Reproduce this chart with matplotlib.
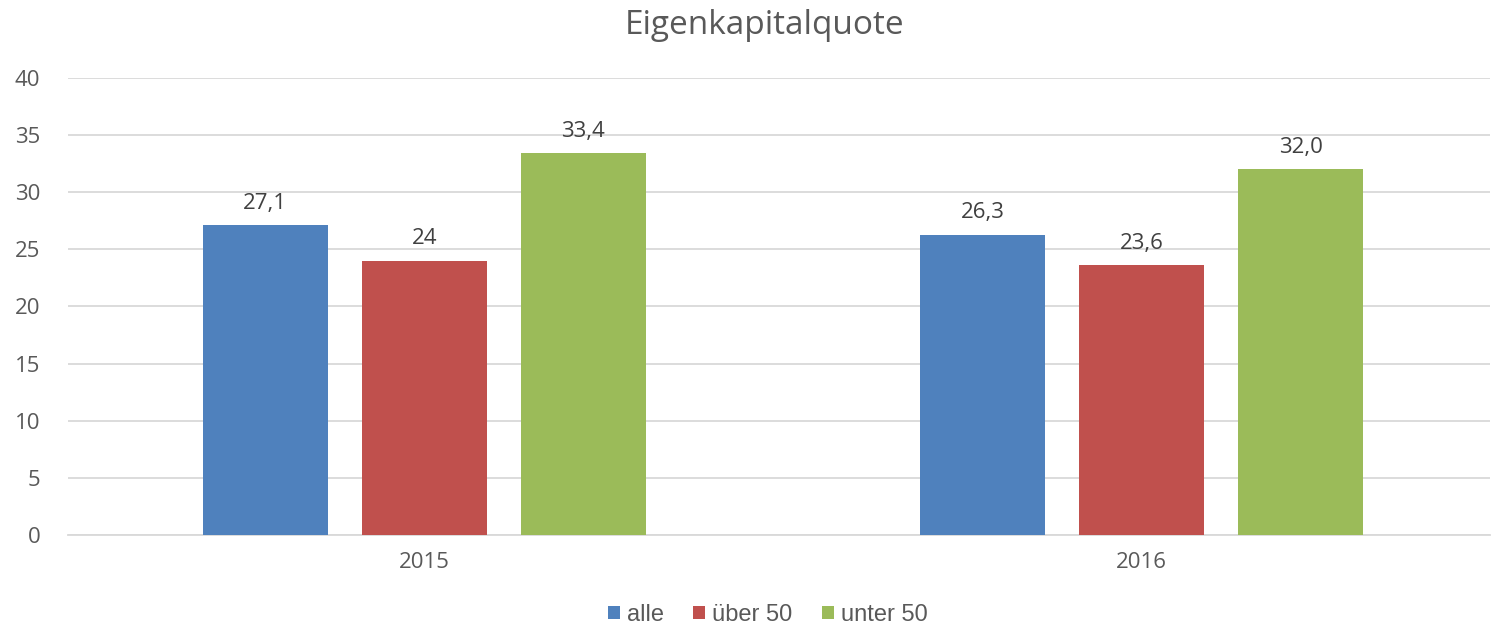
import numpy as np
import matplotlib.pyplot as plt

years = ['2015', '2016']
series = ['alle', 'über 50', 'unter 50']
alle = [27.1, 26.3]
ueber50 = [24, 23.6]
unter50 = [33.4, 32.0]
labels = [['27,1', '26,3'], ['24', '23,6'], ['33,4', '32,0']]
colors = ['#4F81BD', '#C0504D', '#9BBB59']

plt.rcParams['font.family'] = ['Open Sans', 'DejaVu Sans']

fig = plt.figure(figsize=(14.93, 6.26), dpi=100)
ax = fig.add_axes([0.0455, 0.1454, 0.9525, 0.73])

x = np.arange(len(years))
w = 0.1743
step = 0.2218
for i, (vals, name) in enumerate(zip([alle, ueber50, unter50], series)):
    bars = ax.bar(x + (i - 1) * step, vals, w, color=colors[i], label=name, zorder=3)
    for b, lab in zip(bars, labels[i]):
        ax.text(b.get_x() + b.get_width() / 2, b.get_height() + 1.0, lab,
                ha='center', va='bottom', fontsize=16, color='#404040')

ax.set_ylim(0, 40)
ax.set_yticks(range(0, 41, 5))
ax.set_xlim(-0.497, 1.486)
ax.set_xticks(x)
ax.set_xticklabels(years)
ax.grid(axis='y', color='#D9D9D9', linewidth=1.3, zorder=0)
for s in ['top', 'right', 'left']:
    ax.spines[s].set_visible(False)
ax.spines['bottom'].set_color('#D9D9D9')
ax.spines['bottom'].set_linewidth(1.3)
ax.tick_params(axis='both', length=0, labelsize=16, labelcolor='#595959')
ax.tick_params(axis='y', pad=20)
ax.tick_params(axis='x', pad=12)

fig.text(0.512, 0.96, 'Eigenkapitalquote', ha='center', va='center', fontsize=24, color='#595959')
ax.legend(loc='lower center', bbox_to_anchor=(0.492, -0.245), ncol=3, frameon=False,
          handlelength=0.5, handleheight=0.5, handletextpad=0.3, columnspacing=1.25,
          prop={'family': 'Liberation Sans', 'size': 17}, labelcolor='#595959')

fig.savefig('out.png')
